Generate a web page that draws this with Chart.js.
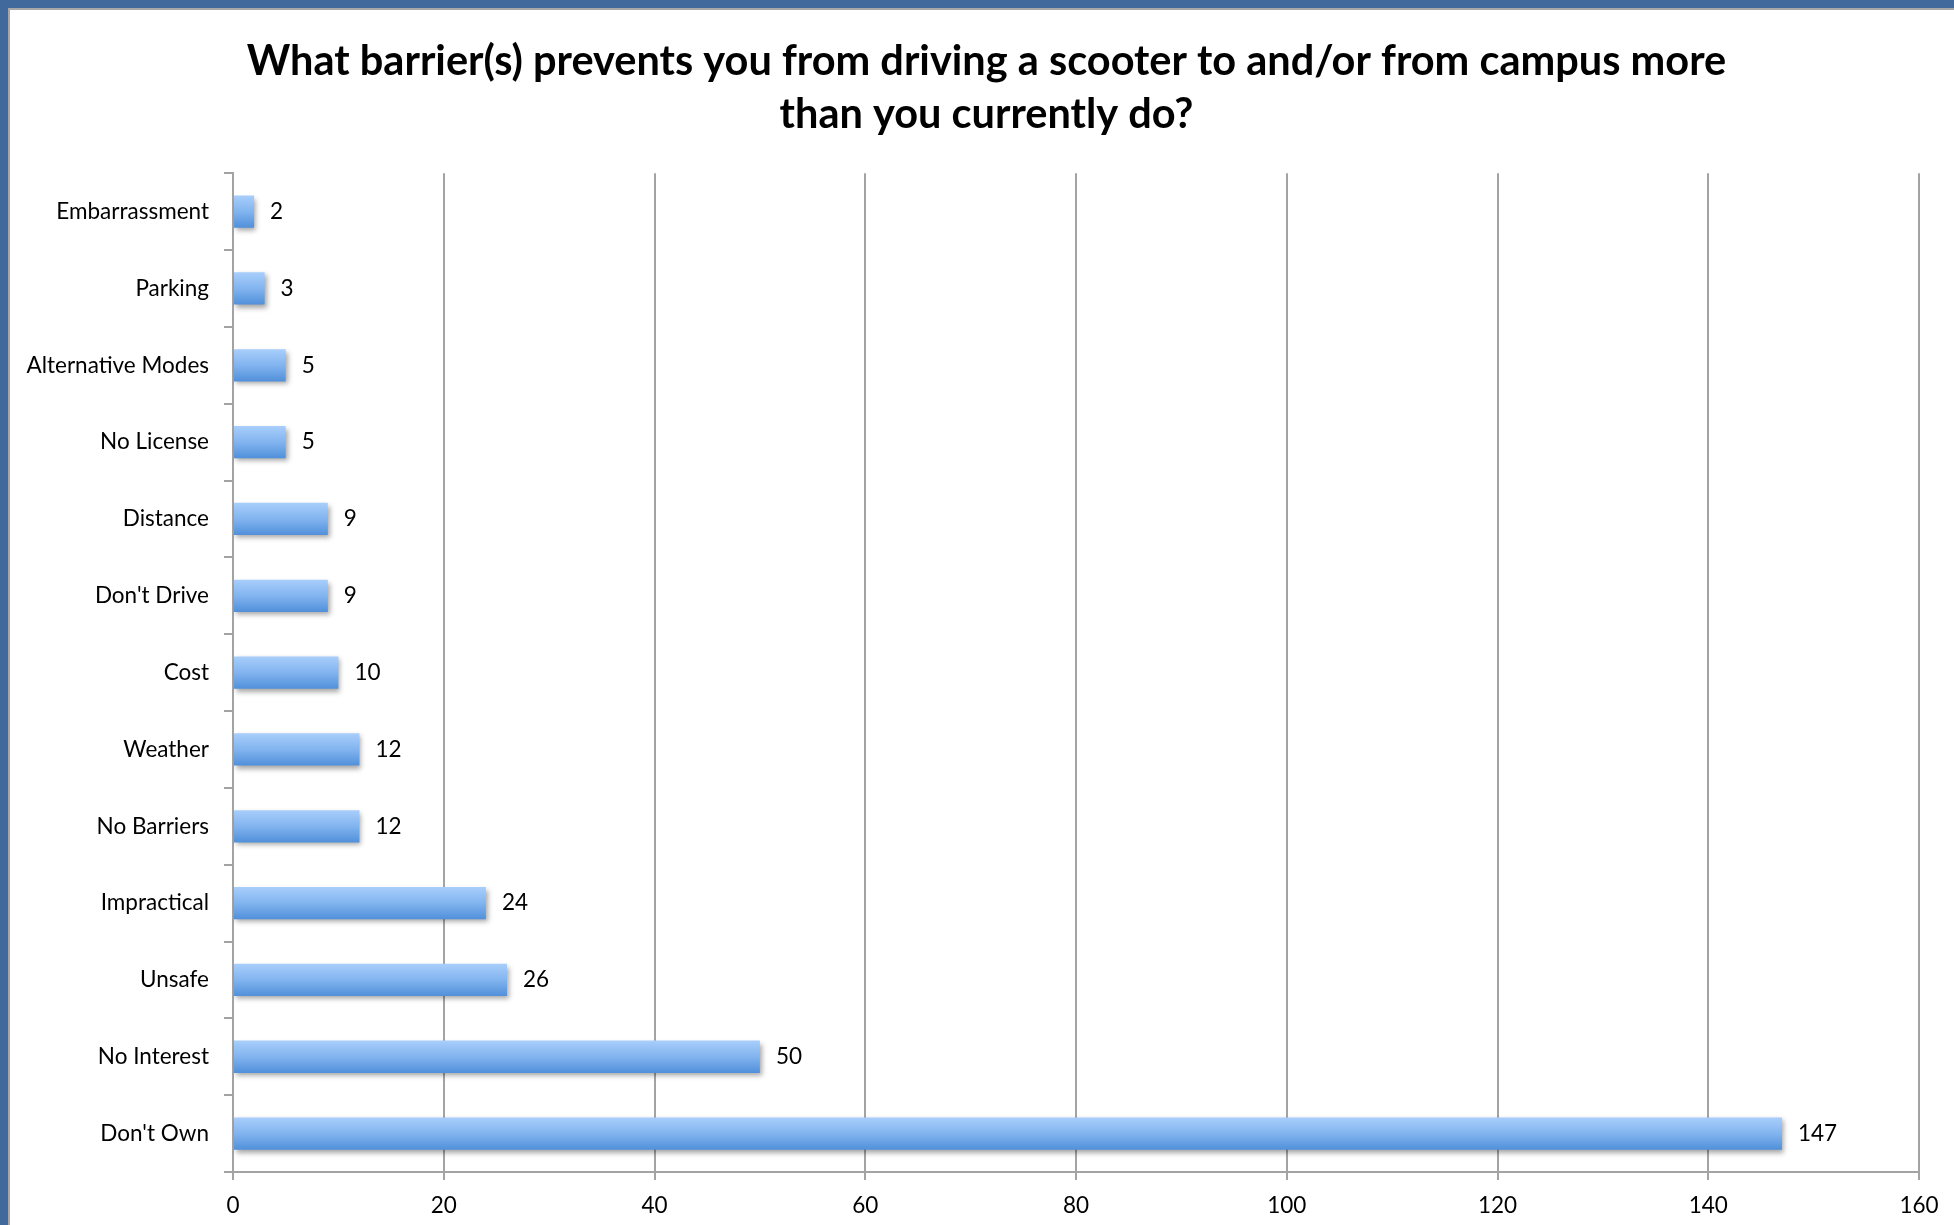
<!DOCTYPE html>
<html>
<head>
<meta charset="utf-8">
<script src="https://cdn.jsdelivr.net/npm/chart.js@4/dist/chart.umd.min.js"></script>
<style>
  html, body { margin: 0; padding: 0; }
  body { width: 1954px; height: 1225px; background: #41699b; overflow: hidden; position: relative; }
  #panel { position: absolute; left: 8px; top: 8px; width: 1946px; height: 1217px; background: #fff;
           border-left: 2px solid #a8a8a8; border-top: 2px solid #a8a8a8; box-sizing: border-box; }
  #wrap { position: absolute; left: 0; top: 0; width: 1944px; height: 1215px; }
</style>
</head>
<body>
<div id="panel"><div id="wrap"><canvas id="c" width="1944" height="1215"></canvas></div></div>
<script>
const titleLines = ["What barrier(s) prevents you from driving a scooter to and/or from campus more", "than you currently do?"];
const categories = ["Embarrassment", "Parking", "Alternative Modes", "No License", "Distance", "Don't Drive", "Cost", "Weather", "No Barriers", "Impractical", "Unsafe", "No Interest", "Don't Own"];
const counts = [2, 3, 5, 5, 9, 9, 10, 12, 12, 24, 26, 50, 147];
const xTicks = [0, 20, 40, 60, 80, 100, 120, 140, 160];

const FONT = "Lato, 'Open Sans', sans-serif";

function barGradient(ctx) {
  const chart = ctx.chart;
  if (ctx.type !== 'data' || !chart.scales || !chart.scales.y) return '#7fb2ef';
  const y = chart.scales.y.getPixelForValue(ctx.dataIndex);
  const half = 16;
  if (!isFinite(y)) return '#7fb2ef';
  const g = chart.ctx.createLinearGradient(0, y - half, 0, y + half);
  g.addColorStop(0, '#a8cefb');
  g.addColorStop(0.5, '#82b4ef');
  g.addColorStop(1, '#5190da');
  return g;
}

const shadowPlugin = {
  id: 'barShadow',
  beforeDatasetDraw(chart) {
    const c = chart.ctx;
    c.save();
    c.shadowColor = 'rgba(0,0,0,0.35)';
    c.shadowBlur = 5;
    c.shadowOffsetX = 2;
    c.shadowOffsetY = 3;
  },
  afterDatasetDraw(chart) {
    chart.ctx.restore();
  }
};

const titleShift = {
  id: 'titleShift',
  afterLayout(chart) {
    if (chart.titleBlock) {
      chart.titleBlock.left += 22;
      chart.titleBlock.right += 22;
    }
  }
};

const valueLabels = {
  id: 'valueLabels',
  afterDatasetsDraw(chart) {
    const c = chart.ctx;
    const meta = chart.getDatasetMeta(0);
    c.save();
    c.font = "22.5px " + FONT;
    c.fillStyle = '#000';
    c.textAlign = 'left';
    c.textBaseline = 'middle';
    meta.data.forEach((bar, i) => {
      c.fillText(String(counts[i]), bar.x + 16, bar.y);
    });
    c.restore();
  }
};

new Chart(document.getElementById('c'), {
  type: 'bar',
  data: {
    labels: categories,
    datasets: [{
      data: counts,
      backgroundColor: barGradient,
      borderWidth: 0,
      categoryPercentage: 0.42,
      barPercentage: 1.0
    }]
  },
  plugins: [shadowPlugin, valueLabels, titleShift],
  options: {
    indexAxis: 'y',
    responsive: false,
    animation: false,
    devicePixelRatio: 1,
    layout: { padding: { left: 0, right: 35, top: 0, bottom: 7 } },
    plugins: {
      legend: { display: false },
      tooltip: { enabled: false },
      title: {
        display: true,
        text: titleLines,
        color: '#000',
        font: { family: FONT, size: 41.5, weight: 'bold', lineHeight: 1.28 },
        padding: { top: 25, bottom: 32 }
      }
    },
    scales: {
      x: {
        type: 'linear',
        min: 0,
        max: 160,
        afterBuildTicks(scale) { scale.ticks = xTicks.map(v => ({ value: v })); },
        afterFit(scale) { scale.height = 46; },
        grid: { display: true, color: '#a3a3a3', lineWidth: 2, drawTicks: true, tickLength: 8, tickColor: '#a3a3a3' },
        border: { display: true, color: '#a3a3a3', width: 2 },
        ticks: { color: '#000', font: { family: FONT, size: 22.5 }, padding: 12 }
      },
      y: {
        type: 'category',
        offset: true,
        afterFit(scale) { scale.width = 223; },
        grid: { display: true, offset: true, drawOnChartArea: false, drawTicks: true, tickLength: 9, color: '#a3a3a3', lineWidth: 2 },
        border: { display: true, color: '#a3a3a3', width: 2 },
        ticks: { color: '#000', font: { family: FONT, size: 22.5 }, padding: 15, autoSkip: false }
      }
    }
  }
});
</script>
</body>
</html>
